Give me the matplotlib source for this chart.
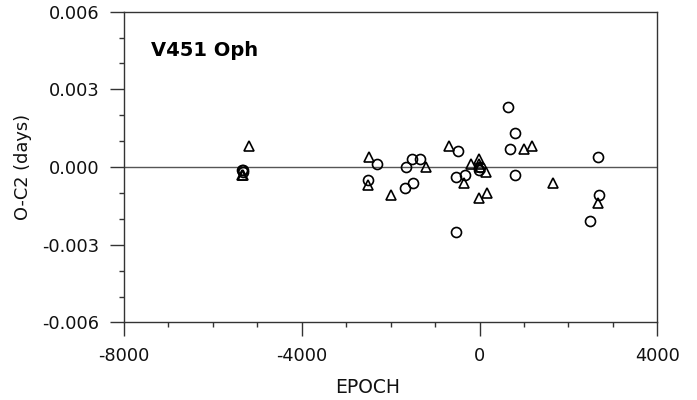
import matplotlib
matplotlib.use("Agg")
from matplotlib import pyplot as plt
from matplotlib.ticker import MultipleLocator

plt.rcParams['axes.unicode_minus'] = False

# circles (primary minima) and triangles (secondary minima)
circ_epoch = [-5340, -5330, -5320, -2500, -2310, -1670, -1650, -1510, -1490, -1340,
              -530, -530, -490, -320, -10, 0, 640, 690, 790, 800,
              2490, 2660, 2680]
circ_oc = [-0.0001, -0.0002, -0.0001, -0.0005, 0.0001, -0.0008, 0.0000, 0.0003, -0.0006, 0.0003,
           -0.0004, -0.0025, 0.0006, -0.0003, -0.0001, 0.0000, 0.0023, 0.0007, 0.0013, -0.0003,
           -0.0021, 0.0004, -0.0011]

tri_epoch = [-5335, -5325, -5190, -2480, -2500, -2000, -1200, -680, -340, -200,
             -20, -10, 0, -20, 150, 160, 990, 1180, 1650, 2660]
tri_oc = [-0.0003, -0.0003, 0.0008, 0.0004, -0.0007, -0.0011, 0.0000, 0.0008, -0.0006, 0.0001,
          0.0003, 0.0001, 0.0000, -0.0012, -0.0002, -0.0010, 0.0007, 0.0008, -0.0006, -0.0014]

fig = plt.figure(figsize=(6.97, 4.0), dpi=100)
ax = fig.add_axes([0.178, 0.194, 0.765, 0.777])

ax.axhline(0, color='#555555', lw=1.0, zorder=1)
ax.plot(circ_epoch, circ_oc, 'o', ms=7.2, mfc='none', mec='black', mew=1.2, zorder=3)
ax.plot(tri_epoch, tri_oc, '^', ms=7, mfc='none', mec='black', mew=1.2, zorder=3)

ax.set_xlim(-8000, 4000)
ax.set_ylim(-0.006, 0.006)
ax.xaxis.set_major_locator(MultipleLocator(4000))
ax.xaxis.set_minor_locator(MultipleLocator(1000))
ax.yaxis.set_major_locator(MultipleLocator(0.003))
ax.yaxis.set_minor_locator(MultipleLocator(0.001))
ax.yaxis.set_major_formatter(plt.FormatStrFormatter('%.3f'))

for s in ax.spines.values():
    s.set_color('#333333')
    s.set_linewidth(1.0)

ax.tick_params(which='major', direction='out', length=10, width=1.0, color='#333333',
               labelsize=12.8, pad=8, labelcolor='#111111')
ax.tick_params(which='minor', direction='out', length=3.7, width=1.0, color='#333333')
ax.tick_params(top=False, right=False)

ax.set_xlabel('EPOCH', fontsize=13.5, color='#111111')
ax.xaxis.set_label_coords(0.456, -0.178)
ax.set_ylabel('O-C2 (days)', fontsize=12.8, labelpad=7, color='#111111')
ax.text(0.05, 0.875, 'V451 Oph', transform=ax.transAxes, fontsize=14,
        fontweight='bold', va='center', ha='left')

fig.savefig('out.png', dpi=100)
